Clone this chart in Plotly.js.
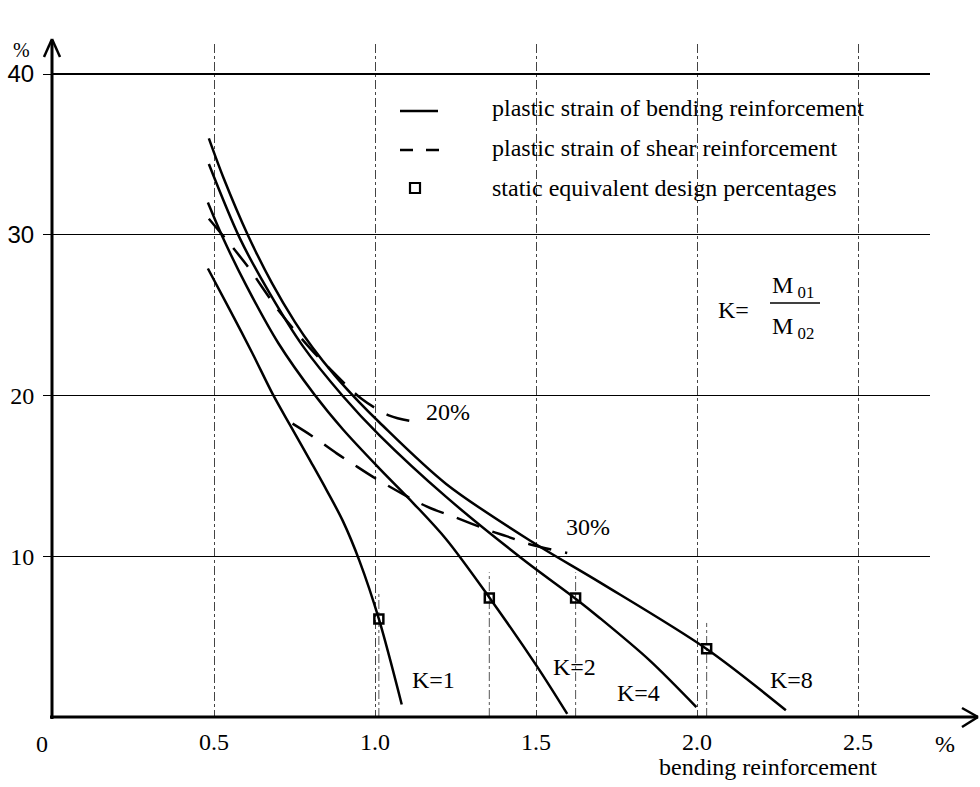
<!DOCTYPE html>
<html><head><meta charset="utf-8">
<script src="https://cdn.plot.ly/plotly-3.0.1.min.js"></script>
<style>html,body{margin:0;padding:0;background:#fff;}#chart{width:980px;height:787px;}</style>
</head><body><div id="chart"></div>
<script>
// ---- data ----
const k1X = [0.481, 0.550, 0.620, 0.682, 0.735, 0.800, 0.850, 0.900, 0.952, 1.012, 1.083];
const k1Y = [27.9, 25.3, 22.6, 20.1, 18.2, 15.9, 14.1, 12.2, 9.7, 6.1, 0.78];
const k2X = [0.481, 0.527, 0.600, 0.700, 0.813, 0.900, 1.014, 1.120, 1.221, 1.355, 1.501, 1.597];
const k2Y = [32.0, 29.84, 26.85, 23.25, 20.03, 17.9, 15.45, 13.28, 11.06, 7.44, 3.21, 0.19];
const k4X = [0.484, 0.580, 0.670, 0.776, 0.900, 1.014, 1.221, 1.458, 1.623, 1.697, 1.852, 1.998];
const k4Y = [34.4, 29.79, 26.46, 23.07, 19.97, 17.52, 13.69, 9.83, 7.36, 6.18, 3.54, 0.62];
const k8X = [0.484, 0.530, 0.605, 0.680, 0.751, 0.806, 0.875, 0.950, 1.014, 1.221, 1.490, 1.697, 2.030, 2.276];
const k8Y = [36.0, 33.52, 29.99, 26.99, 24.58, 22.98, 21.25, 19.6, 18.32, 14.5, 10.87, 8.39, 4.23, 0.42];
const shear20X = [0.484, 0.602, 0.700, 0.800, 0.868, 0.958, 1.045, 1.113];
const shear20Y = [31.0, 28.1, 25.3, 22.9, 21.5, 19.8, 18.75, 18.4];
const shear30X = [0.744, 0.803, 0.881, 0.927, 1.005, 1.160, 1.253, 1.355, 1.408, 1.480, 1.597];
const shear30Y = [18.25, 17.5, 16.4, 15.8, 14.8, 13.1, 12.4, 11.6, 11.25, 10.75, 10.2];
const designX = [1.012, 1.355, 1.623, 2.030];
const designY = [6.1, 7.4, 7.4, 4.25];
const curveLabels = ['K=1', 'K=2', 'K=4', 'K=8'];
const curveLabelX = [1.183, 1.621, 1.817, 2.295];
const curveLabelY = [2.3, 3.1, 1.5, 2.3];
const shearLabels = ['20%', '30%'];
const shearLabelX = [1.227, 1.660];
const shearLabelY = [19.0, 11.8];
const xTickVals = [0.5, 1.0, 1.5, 2.0, 2.5];
const xTickText = ['0.5', '1.0', '1.5', '2.0', '2.5'];
const yTickVals = [10, 20, 30, 40];
const yTickText = ['10', '20', '30', '40'];
const legendTexts = ['plastic strain of bending reinforcement', 'plastic strain of shear reinforcement', 'static equivalent design percentages'];
const xAxisTitle = 'bending reinforcement';

// ---- drawing ----
const FONT = 'Liberation Serif, Times New Roman, serif';
const solid = (x, y) => ({x, y, type: 'scatter', mode: 'lines', hoverinfo: 'skip',
  line: {color: '#000', width: 2.5, shape: 'spline', smoothing: 0.9}});
const dashed = (x, y) => ({x, y, type: 'scatter', mode: 'lines', hoverinfo: 'skip',
  line: {color: '#000', width: 2.5, dash: '24px,14px', shape: 'spline', smoothing: 0.9}});

const traces = [
  solid(k1X, k1Y), solid(k2X, k2Y), solid(k4X, k4Y), solid(k8X, k8Y),
  dashed(shear20X, shear20Y), dashed(shear30X, shear30Y),
  {x: designX, y: designY, type: 'scatter', mode: 'markers', hoverinfo: 'skip',
   marker: {symbol: 'square-open', size: 9, color: '#000', line: {width: 2.5, color: '#000'}}}
];

// pixel -> paper helpers (plot area 53..930 x, 44..717 y)
const PL = 53, PR = 930, PT = 44, PB = 717;
const px = v => (v - PL) / (PR - PL);
const py = v => (PB - v) / (PB - PT);
const seg = (x0, y0, x1, y1, w, dash) => ({type: 'line', xref: 'paper', yref: 'paper',
  x0: px(x0), y0: py(y0), x1: px(x1), y1: py(y1), line: {color: '#000', width: w, dash: dash || 'solid'}});

const shapes = [];
// drop lines at design points
designX.forEach((x, i) => shapes.push({type: 'line', xref: 'x', yref: 'y', x0: x, x1: x, y0: 0, y1: designY[i] + 1.6,
  line: {color: '#555', width: 1, dash: 'dashdot'}, layer: 'below'}));
// axes with arrows
shapes.push(seg(52, 719, 52, 40, 3));
shapes.push(seg(44, 57, 52, 39, 2.5));
shapes.push(seg(60, 57, 52, 39, 2.5));
shapes.push(seg(50, 717, 978, 717, 3));
shapes.push(seg(962, 708, 978, 717, 2.5));
shapes.push(seg(962, 727, 978, 717, 2.5));
// legend glyphs
shapes.push(seg(400, 111, 438, 111, 2.5));
shapes.push(seg(400, 150, 439, 150, 2.5, '13px,13px'));
shapes.push({type: 'rect', xref: 'paper', yref: 'paper', x0: px(410), x1: px(420), y0: py(183), y1: py(193), line: {color: '#000', width: 2.2}});
// fraction bar of K formula
shapes.push(seg(770, 303, 820, 303, 1.5));

const annF = {family: FONT, size: 24, color: '#000'};
const ann = (x, y, text, extra) => Object.assign({x: px(x), y: py(y), xref: 'paper', yref: 'paper',
  xanchor: 'center', yanchor: 'middle', text, showarrow: false, font: annF}, extra || {});
const annotations = [];
curveLabels.forEach((t, i) => annotations.push({x: curveLabelX[i], y: curveLabelY[i], xref: 'x', yref: 'y',
  xanchor: 'center', yanchor: 'middle', text: t, showarrow: false, font: annF}));
shearLabels.forEach((t, i) => annotations.push({x: shearLabelX[i], y: shearLabelY[i], xref: 'x', yref: 'y',
  xanchor: 'center', yanchor: 'middle', text: t, showarrow: false, font: annF}));
legendTexts.forEach((t, i) => annotations.push(ann(490, [108, 148, 188][i], t, {xanchor: 'left'})));
annotations.push(ann(42, 744, '0'));
annotations.push(ann(945, 744, '%'));
annotations.push(ann(21, 50, '%', {font: {family: FONT, size: 20, color: '#000'}}));
annotations.push(ann(768, 767, xAxisTitle));
annotations.push(ann(733, 310, 'K='));
annotations.push(ann(770, 287, 'M<sub> 01</sub>', {xanchor: 'left'}));
annotations.push(ann(770, 328, 'M<sub> 02</sub>', {xanchor: 'left'}));

const sansTicks = new Set(['30', '40']);
const yTickDisplay = yTickText.map(t => sansTicks.has(t) ? '<span style="font-family:Liberation Sans, Arial, sans-serif">' + t + '</span>' : t);

const layout = {
  width: 980, height: 787,
  margin: {l: PL, r: 980 - PR, t: PT, b: 787 - PB, pad: 0},
  paper_bgcolor: '#fff', plot_bgcolor: '#fff',
  showlegend: false,
  font: {family: FONT, size: 24, color: '#000'},
  xaxis: {range: [0, (PR - PL) / 322], tickvals: xTickVals, ticktext: xTickText, showgrid: true,
    gridcolor: '#444', gridwidth: 1, griddash: 'dashdot', zeroline: false, showline: false,
    ticks: '', ticklabelstandoff: 8, tickfont: {family: FONT, size: 24, color: '#000'}, fixedrange: true},
  yaxis: {range: [0, (PB - PT) / 16.075], tickvals: yTickVals, ticktext: yTickDisplay, showgrid: true,
    gridcolor: '#000', gridwidth: 1.2, zeroline: false, showline: false,
    ticks: 'outside', ticklen: 9, tickwidth: 1, tickcolor: '#000', ticklabelstandoff: 4,
    tickfont: {family: FONT, size: 24, color: '#000'}, fixedrange: true},
  shapes, annotations
};
Plotly.newPlot('chart', traces, layout, {staticPlot: true, displayModeBar: false});
</script>
</body></html>
